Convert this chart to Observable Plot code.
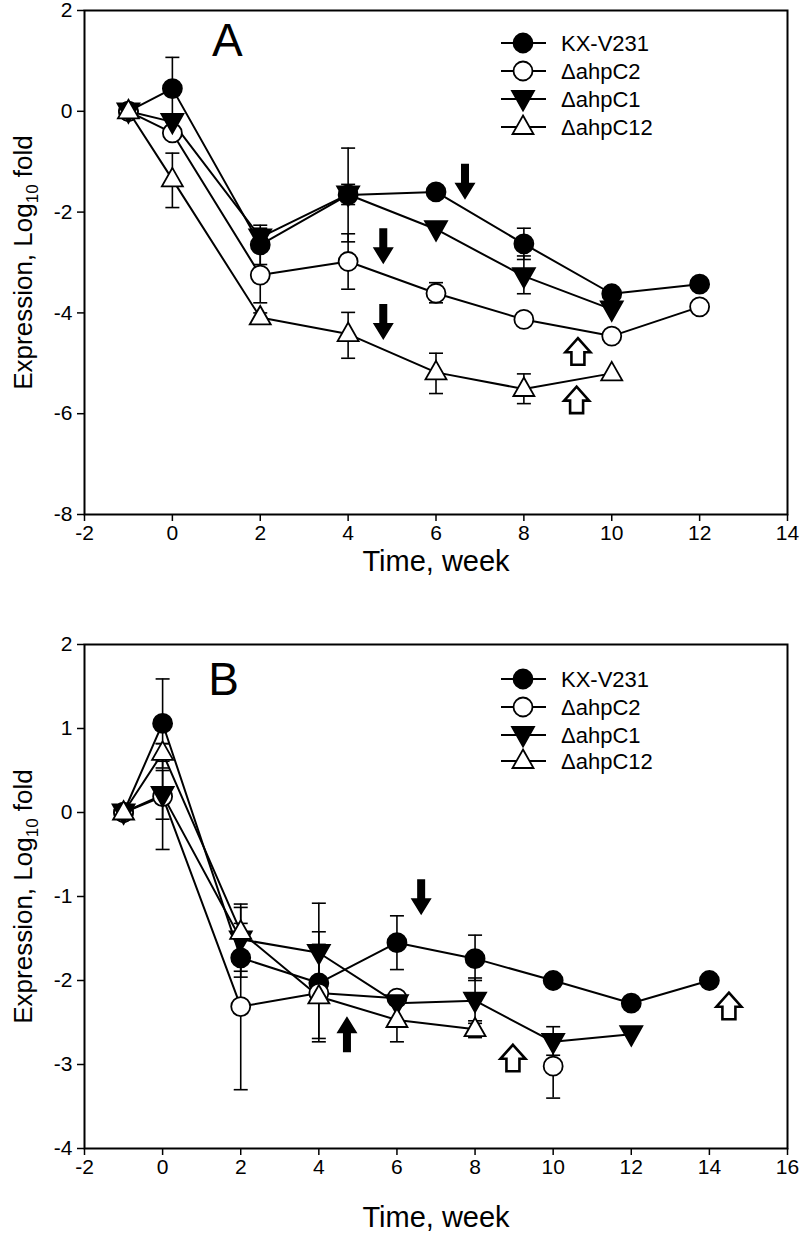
<!DOCTYPE html>
<html><head><meta charset="utf-8">
<script src="https://cdn.jsdelivr.net/npm/d3@7"></script>
<script src="https://cdn.jsdelivr.net/npm/@observablehq/plot@0.6"></script>
<style>
html,body{margin:0;padding:0;background:#fff;}
#wrap{position:relative;width:800px;height:1247px;font-family:"Liberation Sans",Arial,sans-serif;}
.panel{position:absolute;left:0;}
#legend{position:absolute;left:0;top:0;pointer-events:none;}
#wrap svg g[aria-label*="axis"], #wrap svg g[aria-label*="axis"] text{font-size:21px !important;font-family:"Liberation Sans",Arial,sans-serif !important;}
</style></head><body><div id="wrap"></div>
<script>
// ---------- data ----------
const seriesNames = ["KX-V231", "ΔahpC2", "ΔahpC1", "ΔahpC12"];

// Panel A
const weeksA = [-1, 0, 2, 4, 6, 8, 10, 12];
const kxA   = [0, 0.45, -2.65, -1.66, -1.60, -2.63, -3.62, -3.43];
const c2A   = [0, -0.43, -3.25, -2.98, -3.61, -4.13, -4.46, -3.88];
const c1A   = [0, -0.21, -2.50, -1.65, -2.34, -3.27, -3.93, null];
const c12A  = [0, -1.35, -4.09, -4.42, -5.18, -5.51, -5.20, null];
// error bars: [week, low, high]
const errKxA  = [[0, -0.17, 1.07], [2, -3.04, -2.26], [4, -2.59, -0.73], [8, -2.94, -2.32]];
const errC2A  = [[2, -3.80, -2.70], [4, -3.53, -2.43], [6, -3.80, -3.40], [8, -4.23, -4.03]];
const errC1A  = [[2, -2.70, -2.32], [4, -1.85, -1.45], [8, -3.62, -2.87]];
const errC12A = [[0, -1.91, -0.83], [2, -4.18, -4.00], [4, -4.90, -3.99], [6, -5.60, -4.80], [8, -5.80, -5.21]];
// arrows: x (week), y (value), kind
const arrowXA = [6.66, 4.80, 4.80, 9.23, 9.20];
const arrowYA = [-1.40, -2.68, -4.18, -4.76, -5.72];
const arrowKindA = ["down", "down", "down", "openUp", "openUp"];
const xTicksA = [-2, 0, 2, 4, 6, 8, 10, 12, 14];
const yTicksA = [-8, -6, -4, -2, 0, 2];

// Panel B
const weeksB = [-1, 0, 2, 4, 6, 8, 10, 12, 14];
const kxB   = [0, 1.06, -1.73, -2.03, -1.55, -1.74, -2.00, -2.27, -2.00];
const c2B   = [0, 0.19, -2.31, -2.15, -2.21, null, -3.02, null, null];
const c1B   = [0, 0.21, -1.51, -1.67, -2.27, -2.24, -2.73, -2.64, null];
const c12B  = [0, 0.71, -1.42, -2.19, -2.47, -2.58, null, null, null];
const errKxB  = [[0, 0.53, 1.59], [2, -1.96, -1.50], [4, -2.69, -1.42], [6, -1.87, -1.23], [8, -2.00, -1.46]];
const errC2B  = [[0, -0.44, 0.82], [2, -3.30, -1.32], [4, -2.73, -1.57], [10, -3.40, -2.64]];
const errC1B  = [[0, -0.08, 0.50], [2, -1.89, -1.13], [4, -2.26, -1.08], [8, -2.51, -1.97], [10, -2.89, -2.55]];
const errC12B = [[0, 0.61, 0.82], [2, -1.75, -1.09], [6, -2.73, -2.21], [8, -2.68, -2.48]];
const arrowXB = [6.62, 4.72, 8.97, 14.50];
const arrowYB = [-1.01, -2.64, -2.92, -2.30];
const arrowKindB = ["down", "up", "openUp", "openUp"];
const xTicksB = [-2, 0, 2, 4, 6, 8, 10, 12, 14, 16];
const yTicksB = [-4, -3, -2, -1, 0, 1, 2];

const xTitle = "Time, week";
const yTitle = "Expression, Log10 fold";

// ---------- symbols ----------
function polySymbol(pts, closed = true) {
  return {
    draw(ctx, size) {
      const k = Math.sqrt(size / Math.PI) / 10;
      ctx.moveTo(pts[0][0] * k, pts[0][1] * k);
      for (let i = 1; i < pts.length; i++) ctx.lineTo(pts[i][0] * k, pts[i][1] * k);
      if (closed) ctx.closePath();
    }
  };
}
const triUp = polySymbol([[0, -11.5], [10.5, 7], [-10.5, 7]]);
const triDown = polySymbol([[0, 11.5], [11, -8], [-11, -8]]);
const capSym = polySymbol([[-7, 0], [7, 0]], false);
const arrowDown = polySymbol([[-4, -18], [4, -18], [4, 1], [10.5, 1], [0, 18], [-10.5, 1], [-4, 1]]);
const arrowUp = polySymbol([[-4, 18], [4, 18], [4, -1], [10.5, -1], [0, -18], [-10.5, -1], [-4, -1]]);
const arrowOpenUp = polySymbol([[0, -13], [12.5, 1], [6.5, 1], [6.5, 13.5], [-6.5, 13.5], [-6.5, 1], [-12.5, 1]]);

const styles = [
  {symbol: "circle", fill: "black", r: 9.5},
  {symbol: "circle", fill: "white", r: 9.5},
  {symbol: triDown, fill: "black", r: 10},
  {symbol: triUp, fill: "white", r: 10}
];

function toRows(weeks, vals, name) {
  return weeks.map((w, i) => ({week: w, value: vals[i], series: name}));
}
function errRows(errs) {
  return errs.map(([w, lo, hi]) => ({week: w, lo, hi}));
}

function panel({weeks, series, errs, arrowsX, arrowsY, arrowsKind, xDomain, yDomain, xTicks, yTicks,
                letter, letterX, letterY, height, marginTop, marginBottom, titleDy}) {
  const rows = series.flatMap((vals, i) => toRows(weeks, vals, seriesNames[i]));
  const eRows = errs.flatMap(errRows);
  const arrows = arrowsX.map((x, i) => ({x, y: arrowsY[i], kind: arrowsKind[i]}));
  const marks = [
    Plot.line(rows, {x: "week", y: "value", z: "series", stroke: "black", strokeWidth: 2}),
    Plot.ruleX(eRows, {x: "week", y1: "lo", y2: "hi", stroke: "black", strokeWidth: 1.6}),
    Plot.dot(eRows, {x: "week", y: "lo", symbol: capSym, r: 10, stroke: "black", strokeWidth: 1.6, fill: "none"}),
    Plot.dot(eRows, {x: "week", y: "hi", symbol: capSym, r: 10, stroke: "black", strokeWidth: 1.6, fill: "none"})
  ];
  seriesNames.forEach((name, i) => {
    const st = styles[i];
    marks.push(Plot.dot(rows.filter(d => d.series === name && d.value != null), {
      x: "week", y: "value", symbol: st.symbol, r: st.r, fill: st.fill, stroke: "black", strokeWidth: 1.8
    }));
  });
  marks.push(
    Plot.dot(arrows.filter(d => d.kind === "down"), {x: "x", y: "y", symbol: arrowDown, r: 10, fill: "black", stroke: "none"}),
    Plot.dot(arrows.filter(d => d.kind === "up"), {x: "x", y: "y", symbol: arrowUp, r: 10, fill: "black", stroke: "none"}),
    Plot.dot(arrows.filter(d => d.kind === "openUp"), {x: "x", y: "y", symbol: arrowOpenUp, r: 10, fill: "white", stroke: "black", strokeWidth: 2.6}),
    Plot.text([letter], {x: () => letterX, y: () => letterY, text: d => d, fontSize: 46, fill: "black"}),
    Plot.frame({stroke: "black", strokeWidth: 2}),
    Plot.axisX({ticks: xTicks, tickFormat: d => String(d), tickSize: 7, tickPadding: 4, label: null, strokeWidth: 1.5, fontSize: 21}),
    Plot.axisY({ticks: yTicks, tickFormat: d => String(d), tickSize: 7, tickPadding: 5, label: null, strokeWidth: 1.5, fontSize: 21}),
    Plot.text([xTitle], {frameAnchor: "bottom", lineAnchor: "middle", textAnchor: "middle", dy: titleDy, text: d => d, fontSize: 29, fill: "black"}),
    Plot.text([yTitle], {frameAnchor: "left", lineAnchor: "middle", textAnchor: "middle", dx: -61, rotate: -90, text: d => d, fontSize: 26, fill: "black"})
  );
  const svg = Plot.plot({
    width: 800, height, marginTop, marginBottom, marginLeft: 84, marginRight: 13,
    style: {fontFamily: "Liberation Sans, Arial, sans-serif", fontSize: "21px", color: "black", background: "white", overflow: "visible"},
    x: {domain: xDomain},
    y: {domain: yDomain},
    marks
  });
  // enforce tick label size on any axis text, and subscript in y title
  d3.select(svg).selectAll('g[aria-label*="axis"]').attr("font-size", 21).style("font-size", "21px")
    .selectAll("text").attr("font-size", 21).style("font-size", "21px");
  d3.select(svg).selectAll("text").each(function () {
    if (this.textContent === yTitle) {
      const t = d3.select(this);
      t.text(null);
      t.append("tspan").text("Expression, Log");
      t.append("tspan").attr("font-size", 17).attr("dy", 6).text("10");
      t.append("tspan").attr("dy", -6).text(" fold");
    }
  });
  return svg;
}

const wrap = document.getElementById("wrap");

const svgA = panel({
  weeks: weeksA, series: [kxA, c2A, c1A, c12A], errs: [errKxA, errC2A, errC1A, errC12A],
  arrowsX: arrowXA, arrowsY: arrowYA, arrowsKind: arrowKindA,
  xDomain: [-2, 14], yDomain: [-8, 2], xTicks: xTicksA, yTicks: yTicksA,
  letter: "A", letterX: 1.25, letterY: 1.39,
  height: 590, marginTop: 10, marginBottom: 76, titleDy: 47
});
const divA = document.createElement("div"); divA.className = "panel"; divA.style.top = "0px";
divA.appendChild(svgA); wrap.appendChild(divA);

const svgB = panel({
  weeks: weeksB, series: [kxB, c2B, c1B, c12B], errs: [errKxB, errC2B, errC1B, errC12B],
  arrowsX: arrowXB, arrowsY: arrowYB, arrowsKind: arrowKindB,
  xDomain: [-2, 16], yDomain: [-4, 2], xTicks: xTicksB, yTicks: yTicksB,
  letter: "B", letterX: 1.56, letterY: 1.58,
  height: 657, marginTop: 54, marginBottom: 99, titleDy: 69
});
const divB = document.createElement("div"); divB.className = "panel"; divB.style.top = "590px";
divB.appendChild(svgB); wrap.appendChild(divB);

// ---------- legends ----------
const legendRowsA = [43, 71, 99, 127];
const legendRowsB = [679, 707, 735, 761];
const leg = d3.create("svg").attr("id", "legend").attr("width", 800).attr("height", 1247);
function drawLegend(rowsY) {
  seriesNames.forEach((name, i) => {
    const y = rowsY[i];
    const g = leg.append("g");
    g.append("line").attr("x1", 501).attr("x2", 546).attr("y1", y).attr("y2", y).attr("stroke", "black").attr("stroke-width", 2);
    const st = styles[i];
    const sym = st.symbol === "circle" ? d3.symbolCircle : st.symbol;
    g.append("path").attr("transform", `translate(523,${y})`)
      .attr("d", d3.symbol(sym, st.r * st.r * Math.PI)())
      .attr("fill", st.fill).attr("stroke", "black").attr("stroke-width", 1.8);
    g.append("text").attr("x", 561).attr("y", y).attr("dy", "0.35em")
      .attr("font-family", "Liberation Sans, Arial, sans-serif").attr("font-size", 22).text(name);
  });
}
drawLegend(legendRowsA);
drawLegend(legendRowsB);
wrap.appendChild(leg.node());
</script>
</body></html>
